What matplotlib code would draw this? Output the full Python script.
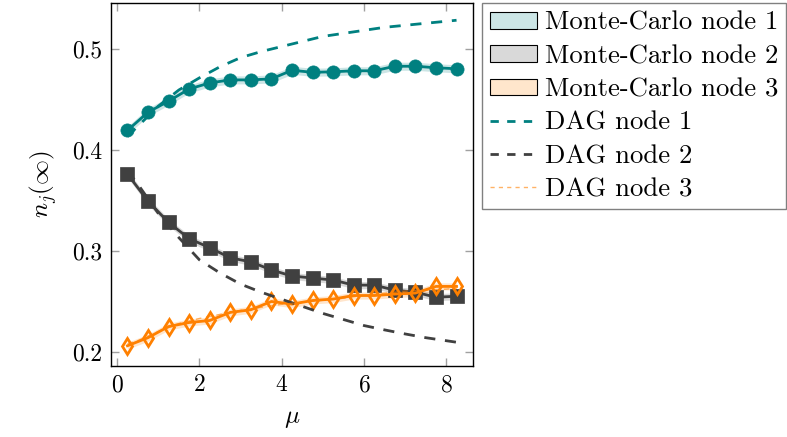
import matplotlib
matplotlib.use('Agg')
import matplotlib.pyplot as plt
import numpy as np
from matplotlib.patches import Patch
from matplotlib.lines import Line2D

plt.rcParams['font.family'] = 'serif'
plt.rcParams['font.serif'] = ['cmr10']
plt.rcParams['mathtext.fontset'] = 'cm'
plt.rcParams['axes.formatter.use_mathtext'] = True

# Monte-Carlo estimates
mu_mc = [0.25, 0.75, 1.25, 1.75, 2.25, 2.75, 3.25, 3.75, 4.25,
         4.75, 5.25, 5.75, 6.25, 6.75, 7.25, 7.75, 8.25]
mc_node1 = [0.419, 0.437, 0.448, 0.460, 0.466, 0.469, 0.469, 0.470, 0.4785,
            0.4765, 0.477, 0.478, 0.478, 0.4825, 0.4825, 0.481, 0.480]
mc_node2 = [0.376, 0.349, 0.328, 0.312, 0.303, 0.293, 0.289, 0.281, 0.275,
            0.273, 0.271, 0.266, 0.266, 0.261, 0.259, 0.254, 0.255]
mc_node3 = [0.206, 0.214, 0.225, 0.229, 0.231, 0.239, 0.2416, 0.2498, 0.2472,
            0.2508, 0.2522, 0.2557, 0.2557, 0.2571, 0.2581, 0.2647, 0.2647]
mc_err1 = [0.004, 0.004, 0.004, 0.004, 0.004, 0.004, 0.004, 0.004, 0.004,
           0.004, 0.004, 0.004, 0.004, 0.004, 0.004, 0.004, 0.004]
mc_err2 = [0.0035, 0.0035, 0.0035, 0.0035, 0.0035, 0.0035, 0.0035, 0.0035, 0.0035,
           0.0035, 0.0035, 0.0035, 0.0035, 0.0035, 0.0035, 0.0035, 0.0035]
mc_err3 = [0.0035, 0.0035, 0.0035, 0.0035, 0.0035, 0.0035, 0.0035, 0.0035, 0.0035,
           0.0035, 0.0035, 0.0035, 0.0035, 0.0035, 0.0035, 0.0035, 0.0035]

# DAG predictions
mu_dag = [0.25, 0.5, 1, 1.5, 2, 2.5, 3, 3.5, 4, 4.5, 5, 5.5, 6, 6.5, 7, 7.5, 8, 8.25]
dag_node1 = [0.413, 0.423, 0.443, 0.459, 0.471, 0.482, 0.491, 0.497, 0.502,
             0.507, 0.512, 0.515, 0.518, 0.521, 0.523, 0.525, 0.527, 0.528]
dag_node2 = [0.379, 0.366, 0.337, 0.313, 0.291, 0.278, 0.267, 0.259, 0.252,
             0.245, 0.238, 0.232, 0.226, 0.2217, 0.2177, 0.214, 0.211, 0.2095]
dag_node3 = [0.208, 0.211, 0.220, 0.228, 0.233, 0.237, 0.241, 0.244, 0.247,
             0.249, 0.251, 0.253, 0.256, 0.258, 0.260, 0.261, 0.262, 0.263]

teal = '#008080'
dark = '#404040'
orange = '#ff8000'

fig = plt.figure(figsize=(7.87, 4.37), dpi=100)
ax = fig.add_axes([0.141, 0.1625, 0.460, 0.8305])

series = [
    (mc_node1, mc_err1, teal, 'o', teal, 9.5),
    (mc_node2, mc_err2, dark, 's', dark, 9.5),
    (mc_node3, mc_err3, orange, 'd', 'none', 8.5),
]
for vals, err, col, mk, face, ms in series:
    v = np.array(vals)
    e = np.array(err)
    ax.fill_between(mu_mc, v - e, v + e, color=col, alpha=0.2, lw=0)
    ax.plot(mu_mc, v, color=col, lw=2, marker=mk, markersize=ms,
            markerfacecolor=face, markeredgecolor=col, markeredgewidth=2 if face == 'none' else 0.5)

ax.plot(mu_dag, dag_node1, color=teal, lw=2, dashes=(4, 3.5))
ax.plot(mu_dag, dag_node2, color=dark, lw=2, dashes=(4, 3.5))
ax.plot(mu_dag, dag_node3, color=orange, lw=1, alpha=0.6, dashes=(4, 3.5))

ax.set_xlim(-0.15, 8.65)
ax.set_ylim(0.186, 0.545)
ax.set_xticks([0, 2, 4, 6, 8])
ax.set_yticks([0.2, 0.3, 0.4, 0.5])
ax.set_yticklabels(['0.2', '0.3', '0.4', '0.5'])
ax.tick_params(direction='in', length=6, width=1, color='#a0a0a0',
               top=True, right=True, labelsize=17, pad=6)
for s in ax.spines.values():
    s.set_linewidth(1)

ax.set_xlabel(r'$\mu$', fontsize=18, labelpad=8)
ax.set_ylabel(r'$n_j(\infty)$', fontsize=18, labelpad=10)

handles = [
    Patch(facecolor='#cce6e6', edgecolor='black', lw=0.8, label='Monte-Carlo node 1'),
    Patch(facecolor='#d9d9d9', edgecolor='black', lw=0.8, label='Monte-Carlo node 2'),
    Patch(facecolor='#ffe6cc', edgecolor='black', lw=0.8, label='Monte-Carlo node 3'),
    Line2D([], [], color=teal, lw=2, dashes=(3, 3), label='DAG node 1'),
    Line2D([], [], color=dark, lw=2, dashes=(3, 3), label='DAG node 2'),
    Line2D([], [], color=orange, lw=1, alpha=0.6, dashes=(3, 3), label='DAG node 3'),
]
leg = ax.legend(handles=handles, loc='upper left', bbox_to_anchor=(1.025, 1.0),
                fontsize=19.2, frameon=True, fancybox=False, framealpha=1,
                handlelength=1.75, handleheight=0.6, handletextpad=0.3,
                labelspacing=0.36, borderpad=0.3, borderaxespad=0)
leg.get_frame().set_edgecolor('#808080')
leg.get_frame().set_linewidth(1)

fig.savefig('out.png', dpi=100)
